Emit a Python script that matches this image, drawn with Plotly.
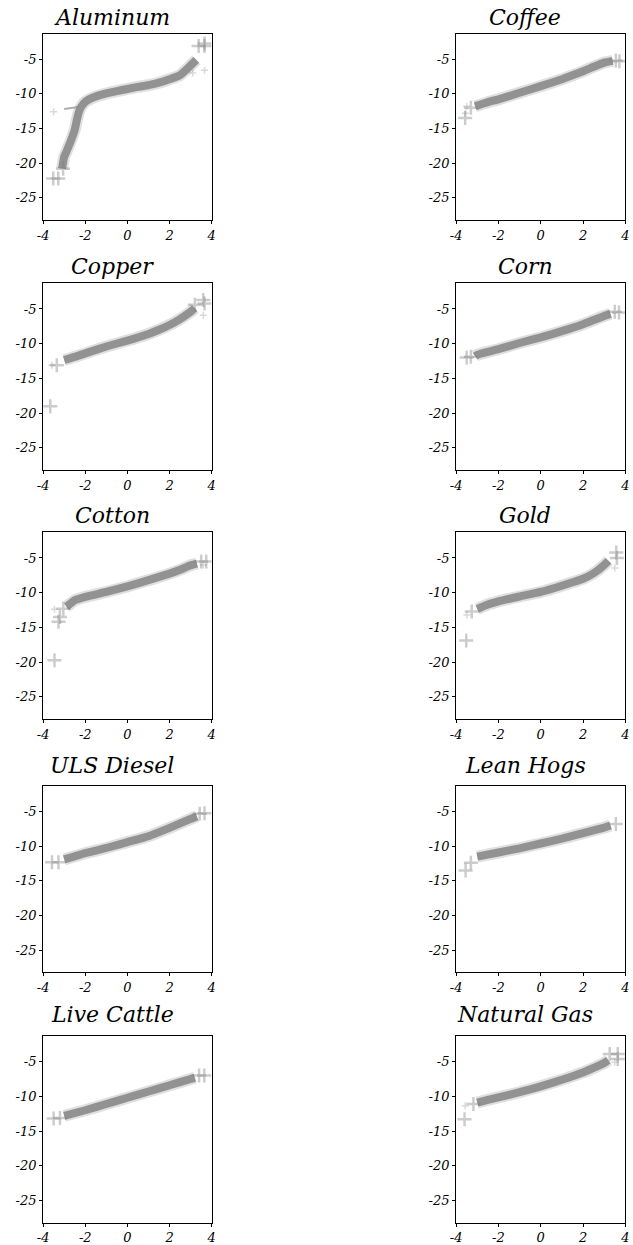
import plotly.graph_objects as go

# ---- QQ data: theoretical quantile (x) vs sample quantile (y) ----
TITLES = ["Aluminum", "Coffee", "Copper", "Corn", "Cotton",
          "Gold", "ULS Diesel", "Lean Hogs", "Live Cattle", "Natural Gas"]

ALUMINUM_X = [-3.1, -3.0, -2.9, -2.7, -2.5, -2.4, -2.3, -2.2, -2.0, -1.5, -1.0, -0.5, 0.0, 0.5, 1.0, 1.5, 2.0, 2.5, 3.0, 3.27]
ALUMINUM_Y = [-20.8, -19.1, -18.4, -16.9, -15.2, -13.8, -12.6, -11.9, -11.15, -10.4, -9.95, -9.6, -9.3, -9.0, -8.75, -8.4, -7.9, -7.3, -5.9, -5.1]
ALUMINUM_TAIL_X = [-3.52, -3.28, -3.05, 3.38, 3.66, 3.66]
ALUMINUM_TAIL_Y = [-22.2, -22.2, -20.8, -3.1, -3.1, -2.75]
ALUMINUM_DOT_X = [3.66, 3.1, -3.5]
ALUMINUM_DOT_Y = [-6.6, -7.0, -12.6]
ALUMINUM_BRANCH_X = [-3.0, -2.6, -2.25]
ALUMINUM_BRANCH_Y = [-12.2, -12.05, -11.85]

COFFEE_X = [-3.1, -3.0, -2.5, -2.0, -1.0, 0.0, 1.0, 2.0, 2.5, 3.0, 3.4]
COFFEE_Y = [-11.8, -11.7, -11.2, -10.8, -9.85, -8.9, -7.9, -6.75, -6.1, -5.5, -5.25]
COFFEE_TAIL_X = [-3.3, -3.57, 3.55, 3.72]
COFFEE_TAIL_Y = [-12.0, -13.5, -5.2, -5.3]
COFFEE_DOT_X = [-3.5, -3.56]
COFFEE_DOT_Y = [-11.8, -12.8]

COPPER_X = [-3.0, -2.5, -2.0, -1.0, 0.0, 1.0, 1.5, 2.0, 2.5, 3.0, 3.2]
COPPER_Y = [-12.35, -11.9, -11.4, -10.4, -9.55, -8.6, -8.0, -7.3, -6.45, -5.4, -4.9]
COPPER_TAIL_X = [-3.35, -3.66, 3.2, 3.6, 3.66]
COPPER_TAIL_Y = [-13.1, -19.0, -4.4, -3.7, -4.2]
COPPER_DOT_X = [-3.58, 3.6]
COPPER_DOT_Y = [-13.1, -5.9]

CORN_X = [-3.1, -3.0, -2.0, -1.0, 0.0, 1.0, 2.0, 2.5, 3.0, 3.3]
CORN_Y = [-11.8, -11.6, -10.8, -9.9, -9.1, -8.2, -7.2, -6.6, -6.0, -5.7]
CORN_TAIL_X = [-3.5, -3.3, 3.5, 3.7]
CORN_TAIL_Y = [-12.0, -11.9, -5.4, -5.5]
CORN_DOT_X = []
CORN_DOT_Y = []

COTTON_X = [-2.9, -2.8, -2.5, -2.0, -1.0, 0.0, 1.0, 2.0, 2.5, 3.0, 3.3]
COTTON_Y = [-12.0, -11.8, -11.1, -10.6, -9.9, -9.1, -8.2, -7.25, -6.7, -6.05, -5.8]
COTTON_TAIL_X = [-3.04, -3.2, -3.27, -3.46, 3.5, 3.74]
COTTON_TAIL_Y = [-12.3, -13.5, -14.2, -19.75, -5.5, -5.5]
COTTON_DOT_X = [-3.46, 3.6]
COTTON_DOT_Y = [-12.4, -6.0]

GOLD_X = [-3.0, -2.5, -2.0, -1.0, 0.0, 1.0, 1.5, 2.0, 2.5, 3.0, 3.2]
GOLD_Y = [-12.35, -11.7, -11.25, -10.55, -9.9, -9.0, -8.5, -8.0, -7.2, -6.0, -5.4]
GOLD_TAIL_X = [-3.26, -3.52, 3.57, 3.6]
GOLD_TAIL_Y = [-12.7, -16.9, -4.2, -5.0]
GOLD_DOT_X = [-3.49, 3.5]
GOLD_DOT_Y = [-13.2, -6.45]

DIESEL_X = [-3.0, -2.5, -2.0, -1.0, 0.0, 1.0, 2.0, 2.5, 3.0, 3.3]
DIESEL_Y = [-11.9, -11.45, -11.0, -10.25, -9.4, -8.55, -7.35, -6.7, -6.05, -5.7]
DIESEL_TAIL_X = [-3.58, -3.27, 3.43, 3.66]
DIESEL_TAIL_Y = [-12.3, -12.3, -5.3, -5.25]
DIESEL_DOT_X = []
DIESEL_DOT_Y = []

HOGS_X = [-3.0, -2.0, -1.0, 0.0, 1.0, 2.0, 3.0, 3.3]
HOGS_Y = [-11.5, -10.9, -10.3, -9.6, -8.9, -8.1, -7.3, -7.0]
HOGS_TAIL_X = [-3.3, -3.55, 3.55]
HOGS_TAIL_Y = [-12.4, -13.5, -6.8]
HOGS_DOT_X = []
HOGS_DOT_Y = []

CATTLE_X = [-3.0, -2.0, -1.0, 0.0, 1.0, 2.0, 3.0, 3.2]
CATTLE_Y = [-12.8, -12.0, -11.1, -10.2, -9.3, -8.4, -7.5, -7.3]
CATTLE_TAIL_X = [-3.5, -3.2, 3.4, 3.65]
CATTLE_TAIL_Y = [-13.2, -13.1, -7.0, -7.0]
CATTLE_DOT_X = []
CATTLE_DOT_Y = []

GAS_X = [-3.0, -2.5, -2.0, -1.0, 0.0, 1.0, 2.0, 2.5, 3.0, 3.2]
GAS_Y = [-10.9, -10.5, -10.15, -9.4, -8.55, -7.6, -6.55, -5.9, -5.2, -4.8]
GAS_TAIL_X = [-3.18, -3.6, 3.26, 3.64, 3.64]
GAS_TAIL_Y = [-11.1, -13.3, -3.9, -3.9, -4.6]
GAS_DOT_X = [-3.57, 3.5]
GAS_DOT_Y = [-11.35, -5.1]

X_TICKS = [-4, -2, 0, 2, 4]
Y_TICKS = [-5, -10, -15, -20, -25]
X_RANGE = [-4, 4]
Y_RANGE = [-28.2, -1.3]

PANELS = [
    (ALUMINUM_X, ALUMINUM_Y, ALUMINUM_TAIL_X, ALUMINUM_TAIL_Y, ALUMINUM_DOT_X, ALUMINUM_DOT_Y),
    (COFFEE_X, COFFEE_Y, COFFEE_TAIL_X, COFFEE_TAIL_Y, COFFEE_DOT_X, COFFEE_DOT_Y),
    (COPPER_X, COPPER_Y, COPPER_TAIL_X, COPPER_TAIL_Y, COPPER_DOT_X, COPPER_DOT_Y),
    (CORN_X, CORN_Y, CORN_TAIL_X, CORN_TAIL_Y, CORN_DOT_X, CORN_DOT_Y),
    (COTTON_X, COTTON_Y, COTTON_TAIL_X, COTTON_TAIL_Y, COTTON_DOT_X, COTTON_DOT_Y),
    (GOLD_X, GOLD_Y, GOLD_TAIL_X, GOLD_TAIL_Y, GOLD_DOT_X, GOLD_DOT_Y),
    (DIESEL_X, DIESEL_Y, DIESEL_TAIL_X, DIESEL_TAIL_Y, DIESEL_DOT_X, DIESEL_DOT_Y),
    (HOGS_X, HOGS_Y, HOGS_TAIL_X, HOGS_TAIL_Y, HOGS_DOT_X, HOGS_DOT_Y),
    (CATTLE_X, CATTLE_Y, CATTLE_TAIL_X, CATTLE_TAIL_Y, CATTLE_DOT_X, CATTLE_DOT_Y),
    (GAS_X, GAS_Y, GAS_TAIL_X, GAS_TAIL_Y, GAS_DOT_X, GAS_DOT_Y),
]

# ---- page geometry (pixels) ----
W, H = 633, 1245
COL_X = [(37.7, 209.0), (457.3, 629.3)]
ROW_Y = [(33.5, 220.0), (283.3, 470.0), (532.3, 719.0), (786.0, 972.3), (1036.0, 1222.7)]
TITLE_CX = [108, 527.5]
TITLE_BASE = [25, 275, 523, 773, 1022]

FONT = "DejaVu Serif"
CORE = "rgb(146,146,146)"
HALO = "rgba(165,165,165,0.35)"
CROSS = "rgba(128,128,128,0.4)"

fig = go.Figure()
layout_axes = {}
annotations = []

for i, (title, panel) in enumerate(zip(TITLES, PANELS)):
    r, c = divmod(i, 2)
    n = i + 1
    xa, ya = f"x{n}", f"y{n}"
    cx, cy, tx, ty, dx, dy = panel

    # soft edge of the dense band
    fig.add_trace(go.Scatter(x=cx, y=cy, mode="lines", xaxis=xa, yaxis=ya,
                             line=dict(color=HALO, width=12, shape="spline", smoothing=0.4),
                             hoverinfo="skip", showlegend=False))
    # dense body of the quantile curve
    fig.add_trace(go.Scatter(x=cx, y=cy, mode="lines", xaxis=xa, yaxis=ya,
                             line=dict(color=CORE, width=8, shape="spline", smoothing=0.4),
                             showlegend=False))
    if i == 0:
        fig.add_trace(go.Scatter(x=ALUMINUM_BRANCH_X, y=ALUMINUM_BRANCH_Y, mode="lines",
                                 xaxis=xa, yaxis=ya,
                                 line=dict(color="rgba(140,140,140,0.7)", width=2),
                                 showlegend=False))
    # sparse tail quantiles drawn as '+' markers
    fig.add_trace(go.Scatter(x=tx, y=ty, mode="markers", xaxis=xa, yaxis=ya,
                             marker=dict(symbol="cross-thin", size=10,
                                         line=dict(color=CROSS, width=2.5)),
                             showlegend=False))
    if dx:
        fig.add_trace(go.Scatter(x=dx, y=dy, mode="markers", xaxis=xa, yaxis=ya,
                                 marker=dict(symbol="cross-thin", size=5,
                                             line=dict(color="rgba(128,128,128,0.3)", width=1.5)),
                                 showlegend=False))

    x0, x1 = COL_X[c]
    y0, y1 = ROW_Y[r]
    suffix = "" if n == 1 else str(n)
    common = dict(showgrid=False, zeroline=False, showline=True, linecolor="black",
                  linewidth=1, mirror=True, ticks="outside", ticklen=3, tickwidth=1,
                  tickcolor="black",
                  tickfont=dict(family=FONT, size=13, color="black", style="italic"))
    layout_axes["xaxis" + suffix] = dict(
        domain=[x0 / W, x1 / W], range=X_RANGE, anchor=ya,
        tickvals=X_TICKS, ticktext=[str(v) for v in X_TICKS], **common)
    layout_axes["yaxis" + suffix] = dict(
        domain=[1 - y1 / H, 1 - y0 / H], range=Y_RANGE, anchor=xa,
        tickvals=Y_TICKS, ticktext=[str(v) for v in Y_TICKS], **common)

    annotations.append(dict(
        text=title, xref="paper", yref="paper", showarrow=False,
        x=TITLE_CX[c] / W, y=1 - (TITLE_BASE[r] - 8) / H,
        xanchor="center", yanchor="middle",
        font=dict(family=FONT, size=22, color="black", style="italic")))

fig.update_layout(
    width=W, height=H, margin=dict(l=0, r=0, t=0, b=0),
    paper_bgcolor="white", plot_bgcolor="white",
    annotations=annotations, **layout_axes)

fig.write_html("out.html")
